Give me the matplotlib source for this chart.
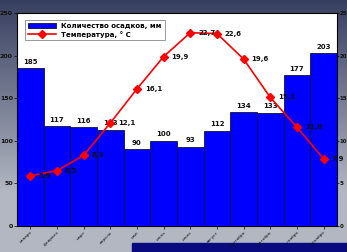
import matplotlib
matplotlib.use("Agg")
import matplotlib.pyplot as plt
import numpy as np
from matplotlib.patches import Rectangle

months = ["январь", "февраль", "март", "апрель", "май", "июнь", "июль",
          "август", "сентябрь", "октябрь", "ноябрь", "декабрь"]
precip = [185, 117, 116, 113, 90, 100, 93, 112, 134, 133, 177, 203]
temp = [5.9, 6.5, 8.3, 12.1, 16.1, 19.9, 22.7, 22.6, 19.6, 15.1, 11.6, 7.9]
left_ticks = [0, 50, 100, 150, 200, 250]
right_ticks = [0, 5, 10, 15, 20, 25]

fig = plt.figure(figsize=(3.47, 2.52), dpi=100)

# background gradient
bg = fig.add_axes([0, 0, 1, 1])
bg.set_axis_off()
h, w = 100, 100
yy = np.linspace(0, 1, h)[:, None]
xx = np.linspace(0, 1, w)[None, :]
top = np.array([0.22, 0.25, 0.38])
bot = np.array([0.70, 0.72, 0.76])
t = np.clip(yy * 1.3, 0, 1)
img = top[None, None, :] * (1 - t[..., None]) + bot[None, None, :] * t[..., None]
img = img + 0 * xx[..., None]
bg.imshow(img, extent=[0, 1, 0, 1], aspect="auto", origin="upper")
bg.add_patch(Rectangle((0.38, 0.0), 0.62, 0.035, color="#0a0a80"))
bg.set_xlim(0, 1)
bg.set_ylim(0, 1)

ax = fig.add_axes([0.049, 0.103, 0.922, 0.845])
ax.set_facecolor("white")
x = np.arange(len(months))
ax.bar(x, precip, width=1.0, color="#0000FF", edgecolor="#101040", linewidth=0.6,
       label="Количество осадков, мм")
ax.set_xlim(-0.5, len(months) - 0.5)
ax.set_ylim(0, 250)
ax.set_yticks(left_ticks)
ax.set_yticklabels([str(v) for v in left_ticks], fontsize=4.5, fontweight="bold", color="#111111")
ax.set_xticks(x)
ax.set_xticklabels(months, rotation=45, ha="right", rotation_mode="anchor",
                   fontsize=3.2, color="#111111")
ax.tick_params(axis="both", length=2, width=0.5, pad=1)
for i, v in enumerate(precip):
    ax.text(i, v + 4, str(v), ha="center", va="bottom", fontsize=5, fontweight="bold", color="#111111")
for s in ax.spines.values():
    s.set_linewidth(0.6)

ax2 = ax.twinx()
ax2.plot(x, temp, color="#FF0000", marker="D", markersize=4, linewidth=1.2,
         label="Температура, ° C")
ax2.set_ylim(0, 25)
ax2.set_yticks(right_ticks)
ax2.set_yticklabels([str(v) for v in right_ticks], fontsize=4, fontweight="bold", color="#111111")
ax2.tick_params(axis="y", length=1.2, width=0.5, pad=0.5)
for i, v in enumerate(temp):
    ax2.text(i + 0.3, v, f"{v:.1f}".replace(".", ","), ha="left", va="center",
             fontsize=5, fontweight="bold", color="#111111")

h1, l1 = ax.get_legend_handles_labels()
h2, l2 = ax2.get_legend_handles_labels()
leg = ax2.legend(h1 + h2, l1 + l2, loc="upper left", bbox_to_anchor=(0.015, 0.985),
                 prop={"weight": "bold", "size": 5}, frameon=True,
                 fancybox=False, edgecolor="#888888", framealpha=1,
                 handlelength=4, handleheight=0.8, borderpad=0.4, labelspacing=0.3)
leg.get_frame().set_linewidth(0.6)

fig.savefig("out.png", dpi=100)
